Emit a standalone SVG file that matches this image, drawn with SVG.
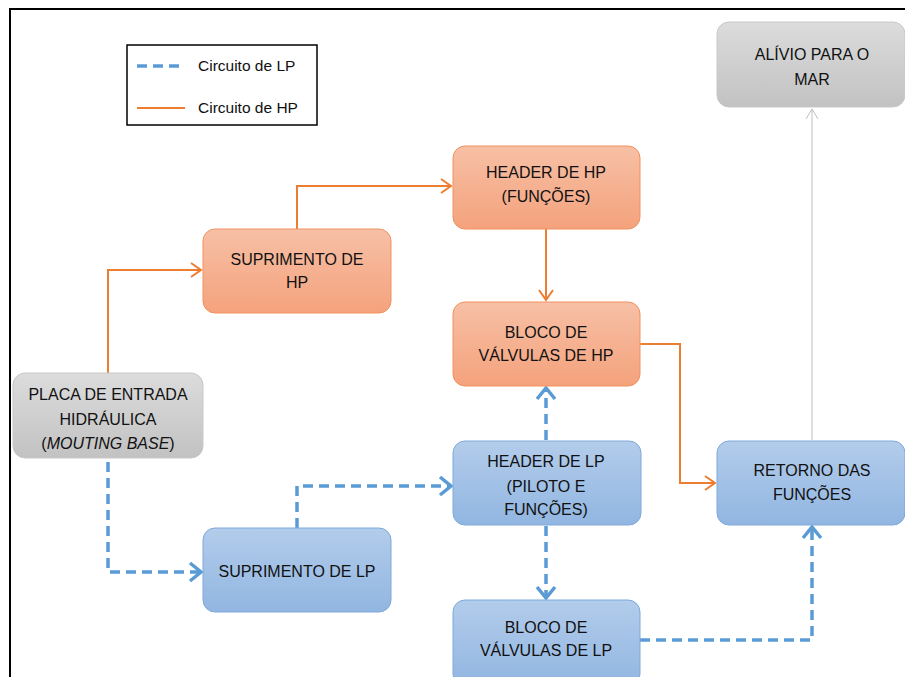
<svg xmlns="http://www.w3.org/2000/svg" width="905" height="677" viewBox="0 0 905 677">
  <defs>
    <linearGradient id="gOrange" x1="0" y1="0" x2="0" y2="1">
      <stop offset="0" stop-color="#f7c0a6"/>
      <stop offset="1" stop-color="#f4a27c"/>
    </linearGradient>
    <linearGradient id="gBlue" x1="0" y1="0" x2="0" y2="1">
      <stop offset="0" stop-color="#b3cceb"/>
      <stop offset="1" stop-color="#91b6e1"/>
    </linearGradient>
    <linearGradient id="gGray" x1="0" y1="0" x2="0" y2="1">
      <stop offset="0" stop-color="#dcdcdc"/>
      <stop offset="1" stop-color="#c2c2c2"/>
    </linearGradient>
    <marker id="arrHP" markerWidth="14" markerHeight="18" refX="12" refY="9" orient="auto" markerUnits="userSpaceOnUse">
      <path d="M2,2 L12,9 L2,16" fill="none" stroke="#ed7d31" stroke-width="2"/>
    </marker>
    <marker id="arrLP" markerWidth="18" markerHeight="22" refX="14" refY="11" orient="auto" markerUnits="userSpaceOnUse">
      <path d="M3,2 L14,11 L3,20" fill="none" stroke="#5b9bd5" stroke-width="3.5"/>
    </marker>
    <marker id="arrGray" markerWidth="14" markerHeight="16" refX="12" refY="8" orient="auto" markerUnits="userSpaceOnUse">
      <path d="M2,2 L12,8 L2,14" fill="none" stroke="#bfbfbf" stroke-width="1"/>
    </marker>
  </defs>
  <style>
    .hp { fill: url(#gOrange); stroke: #f19160; stroke-width: 1; }
    .lp { fill: url(#gBlue); stroke: #7ea9da; stroke-width: 1; }
    .gr { fill: url(#gGray); stroke: #c8c8c8; stroke-width: 1; }
    .t { font-family: "Liberation Sans", Arial, sans-serif; font-size: 16px; fill: #111; text-anchor: middle; }
    .lg { font-family: "Liberation Sans", Arial, sans-serif; font-size: 15.5px; fill: #111; }
    .lineHP { fill: none; stroke: #ed7d31; stroke-width: 2; }
    .lineLP { fill: none; stroke: #5b9bd5; stroke-width: 3.5; stroke-dasharray: 10 6; }
    .lineGray { fill: none; stroke: #bfbfbf; stroke-width: 1; }
  </style>

  <rect x="0" y="0" width="905" height="677" fill="#ffffff"/>
  <!-- outer frame -->
  <path d="M10,677 L10,9 L905,9" fill="none" stroke="#000" stroke-width="2"/>

  <!-- legend -->
  <g id="legend">
    <rect x="127" y="45" width="190" height="80" fill="#fff" stroke="#000" stroke-width="1.5"/>
    <line x1="137" y1="66" x2="185" y2="66" class="lineLP" stroke-dasharray="11 5"/>
    <text x="198" y="71" class="lg">Circuito de LP</text>
    <line x1="137" y1="108" x2="185" y2="108" class="lineHP"/>
    <text x="198" y="113" class="lg">Circuito de HP</text>
  </g>

  <!-- connectors -->
  <g id="connectors">
    <path class="lineHP" d="M108,373 L108,270 L201,270" marker-end="url(#arrHP)"/>
    <path class="lineHP" d="M297,229 L297,186 L451,186" marker-end="url(#arrHP)"/>
    <path class="lineHP" d="M546,229 L546,300" marker-end="url(#arrHP)"/>
    <path class="lineHP" d="M640,344 L680,344 L680,483 L715,483" marker-end="url(#arrHP)"/>
    <path class="lineGray" d="M812,440 L812,109" marker-end="url(#arrGray)"/>
    <path class="lineLP" d="M108,462 L108,572 L201,572" marker-end="url(#arrLP)"/>
    <path class="lineLP" d="M297,528 L297,486 L451,486" marker-end="url(#arrLP)"/>
    <path class="lineLP" d="M546,440 L546,388" marker-end="url(#arrLP)"/>
    <path class="lineLP" d="M546,526 L546,598" marker-end="url(#arrLP)"/>
    <path class="lineLP" d="M640,640 L812,640 L812,527" marker-end="url(#arrLP)"/>
  </g>

  <g id="alivio">
    <rect class="gr" x="717" y="22" width="188" height="85" rx="12"/>
    <text class="t" x="812" y="60">ALÍVIO PARA O</text>
    <text class="t" x="812" y="85">MAR</text>
  </g>
  <g id="header-hp">
    <rect class="hp" x="453" y="146" width="187" height="83" rx="12"/>
    <text class="t" x="546" y="178">HEADER DE HP</text>
    <text class="t" x="546" y="202">(FUNÇÕES)</text>
  </g>
  <g id="suprimento-hp">
    <rect class="hp" x="203" y="229" width="188" height="84" rx="12"/>
    <text class="t" x="297" y="265">SUPRIMENTO DE</text>
    <text class="t" x="297" y="288">HP</text>
  </g>
  <g id="bloco-hp">
    <rect class="hp" x="453" y="302" width="187" height="84" rx="12"/>
    <text class="t" x="546" y="338">BLOCO DE</text>
    <text class="t" x="546" y="361">VÁLVULAS DE HP</text>
  </g>
  <g id="placa">
    <rect class="gr" x="13" y="373" width="190" height="85" rx="12"/>
    <text class="t" x="108" y="400">PLACA DE ENTRADA</text>
    <text class="t" x="108" y="425">HIDRÁULICA</text>
    <text class="t" x="108" y="449">(<tspan font-style="italic">MOUTING BASE</tspan>)</text>
  </g>
  <g id="header-lp">
    <rect class="lp" x="453" y="441" width="188" height="84" rx="12"/>
    <text class="t" x="546" y="467">HEADER DE LP</text>
    <text class="t" x="546" y="492">(PILOTO E</text>
    <text class="t" x="546" y="515">FUNÇÕES)</text>
  </g>
  <g id="retorno">
    <rect class="lp" x="717" y="441" width="188" height="84" rx="12"/>
    <text class="t" x="812" y="476">RETORNO DAS</text>
    <text class="t" x="812" y="500">FUNÇÕES</text>
  </g>
  <g id="suprimento-lp">
    <rect class="lp" x="203" y="528" width="188" height="84" rx="12"/>
    <text class="t" x="297" y="577">SUPRIMENTO DE LP</text>
  </g>
  <g id="bloco-lp">
    <rect class="lp" x="453" y="600" width="187" height="86" rx="12"/>
    <text class="t" x="546" y="633">BLOCO DE</text>
    <text class="t" x="546" y="656">VÁLVULAS DE LP</text>
  </g>
</svg>
